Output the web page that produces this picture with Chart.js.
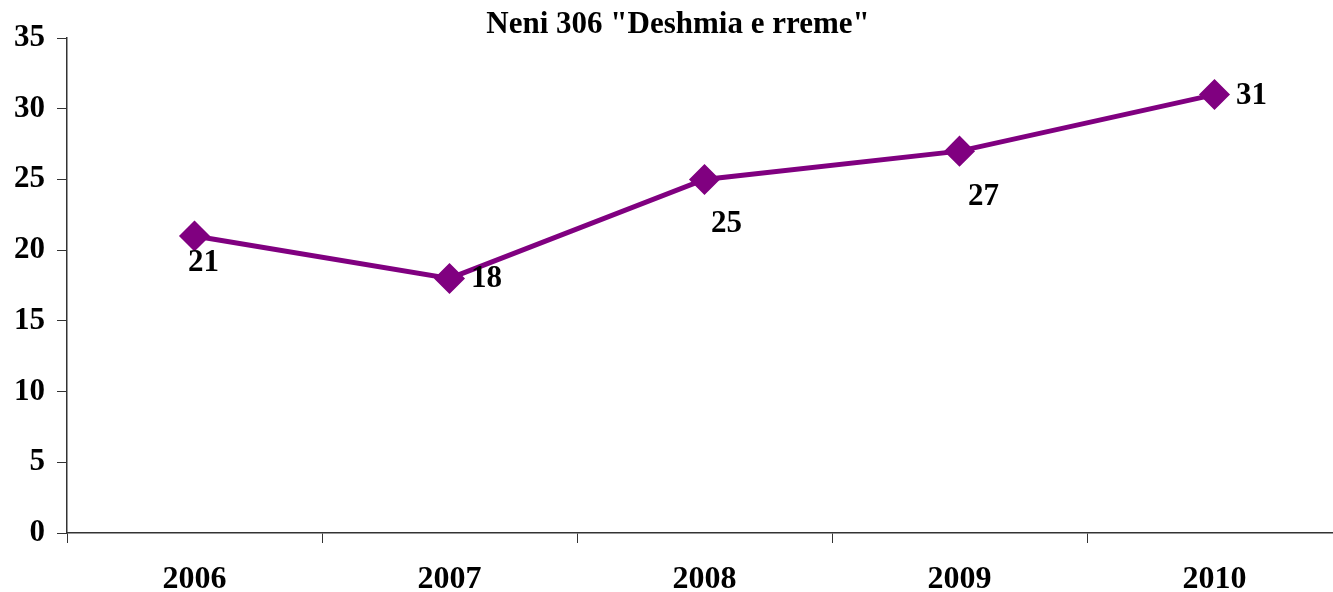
<!DOCTYPE html>
<html>
<head>
<meta charset="utf-8">
<script src="https://cdn.jsdelivr.net/npm/chart.js@4/dist/chart.umd.min.js"></script>
<style>
  html, body { margin: 0; padding: 0; background: #fff; overflow: hidden; width: 1333px; height: 592px; }
  canvas { display: block; }
</style>
</head>
<body>
<canvas id="chart" width="1342" height="592"></canvas>
<script>
// Neni 306 "Deshmia e rreme"
const titleText = 'Neni 306 "Deshmia e rreme"';
const years = ['2006', '2007', '2008', '2009', '2010'];
const values = [21, 18, 25, 27, 31];
const yTicks = [0, 5, 10, 15, 20, 25, 30, 35];

const FONT = "'Liberation Serif', 'Times New Roman', serif";

// etiketat e vlerave: zhvendosja nga pika (dx, dy)
const labelOffsets = [[9, 27], [37, 1], [22, 45], [24, 46], [37, 1]];

const valueLabels = {
    id: 'valueLabels',
    afterDatasetsDraw(chart) {
        const ctx = chart.ctx;
        const meta = chart.getDatasetMeta(0);
        ctx.save();
        ctx.font = 'bold 31px ' + FONT;
        ctx.fillStyle = '#000';
        ctx.textAlign = 'center';
        ctx.textBaseline = 'middle';
        meta.data.forEach((pt, i) => {
            const off = labelOffsets[i];
            ctx.fillText(String(values[i]), pt.x + off[0], pt.y + off[1]);
        });
        ctx.restore();
    }
};

const topTitle = {
    id: 'topTitle',
    afterDraw(chart) {
        const ctx = chart.ctx;
        ctx.save();
        ctx.font = 'bold 31px ' + FONT;
        ctx.fillStyle = '#000';
        ctx.textAlign = 'center';
        ctx.textBaseline = 'middle';
        ctx.fillText(titleText, 678, 25);
        ctx.restore();
    }
};

new Chart(document.getElementById('chart'), {
    type: 'line',
    data: {
        labels: years,
        datasets: [{
            data: values,
            borderColor: '#800080',
            backgroundColor: '#800080',
            borderWidth: 5,
            pointStyle: 'rectRot',
            pointRadius: 12,
            pointHoverRadius: 12,
            tension: 0
        }]
    },
    options: {
        responsive: false,
        animation: false,
        // kanavaca eshte pak me e gjere se dritarja, boshti del jashte djathtas si ne origjinal
        layout: { autoPadding: false, padding: { left: 2, top: 38, right: 0, bottom: 0 } },
        plugins: {
            legend: { display: false },
            title: { display: false },
            tooltip: { enabled: false }
        },
        scales: {
            x: {
                offset: true,
                afterFit(scale) {
                    scale.paddingLeft = 0;
                    scale.paddingRight = 0;
                    scale.height = 59;
                },
                grid: {
                    offset: true,
                    drawOnChartArea: false,
                    drawTicks: true,
                    tickLength: 10,
                    color: '#333'
                },
                border: { color: '#333', width: 1.5 },
                ticks: {
                    color: '#000',
                    padding: 21,
                    font: { family: FONT, size: 32, weight: 'bold', lineHeight: 1.0 }
                }
            },
            y: {
                min: 0,
                max: 35,
                afterBuildTicks(scale) {
                    scale.ticks = yTicks.map(v => ({ value: v }));
                },
                afterFit(scale) {
                    scale.width = 65;
                    scale.paddingTop = 0;
                    scale.paddingBottom = 0;
                },
                grid: {
                    drawOnChartArea: false,
                    drawTicks: true,
                    tickLength: 10,
                    color: '#333'
                },
                border: { color: '#333', width: 1.5 },
                ticks: {
                    color: '#000',
                    padding: 12,
                    font: { family: FONT, size: 31, weight: 'bold' }
                }
            }
        }
    },
    plugins: [valueLabels, topTitle]
});
</script>
</body>
</html>
